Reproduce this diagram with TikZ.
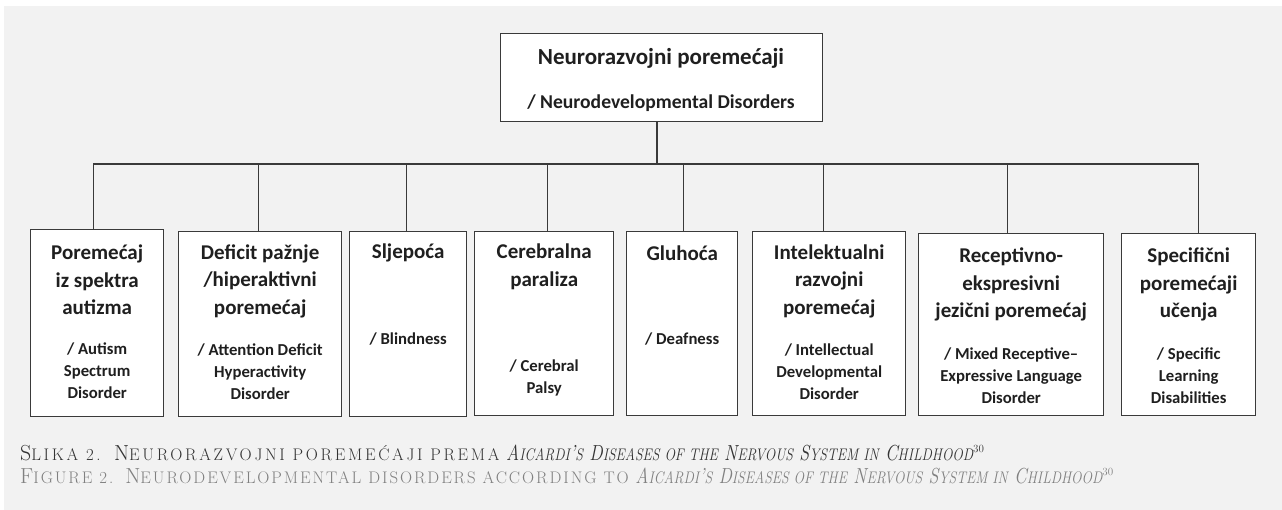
\documentclass[tikz,border=0pt]{standalone}
\usepackage{fontspec}
\usepackage{graphicx}
\newfontfamily\carl{Carlito}
\newfontfamily\capupA{Latin Modern Roman}[LetterSpace=16]
\newfontfamily\capupB{Latin Modern Roman}[LetterSpace=11.5]
\definecolor{bggray}{HTML}{F2F2F2}
\definecolor{linec}{HTML}{3A3A3A}
\definecolor{capA}{HTML}{333333}
\definecolor{capB}{HTML}{808080}
\newcommand\smc[1]{{\fontsize{16.8}{17}\selectfont #1}}
\newcommand\itpart{\scalebox{0.83}[1]{\itshape A\smc{ICARDI}’\smc{S} D\smc{ISEASES OF THE} N\smc{ERVOUS} S\smc{YSTEM IN} C\smc{HILDHOOD}}\textsuperscript{\fontsize{11}{11}\selectfont 30}}
\tikzset{
  box/.style={draw=linec, line width=1.4pt, fill=white, inner sep=0pt, anchor=north west},
  conn/.style={draw=linec, line width=1.2pt},
  hd/.style={font=\carl\bfseries\fontsize{21}{27.5}\selectfont, text=black!88, align=center, inner sep=0pt},
  en/.style={font=\carl\bfseries\fontsize{16.7}{22}\selectfont, text=black!88, align=center, inner sep=0pt},
  captxt/.style={anchor=base west, inner sep=0pt, font=\fontsize{21.8}{24}\selectfont}
}
\begin{document}
\begin{tikzpicture}[x=1pt,y=-1pt]
\useasboundingbox (0,0) rectangle (1282,510);
\fill[white] (0,0) rectangle (1282,510);
\fill[bggray] (4,6) rectangle (1282,510);
% top box
\node[box, minimum width=322pt, minimum height=88pt] (top) at (500,33) {};
\node[hd, font=\carl\bfseries\fontsize{23}{27}\selectfont] (topa) at (661,58) {Neurorazvojni poremećaji};
\node[en, font=\carl\bfseries\fontsize{19.6}{22}\selectfont] (topb) at (661,103) {/ Neurodevelopmental Disorders};
% children
\node[box, minimum width=133pt, minimum height=187pt] (c1) at (30,229) {};
\node[box, minimum width=163pt, minimum height=185pt] (c2) at (178,231) {};
\node[box, minimum width=117pt, minimum height=185pt] (c3) at (349,231) {};
\node[box, minimum width=139pt, minimum height=184pt] (c4) at (474,231) {};
\node[box, minimum width=111pt, minimum height=184pt] (c5) at (626,231) {};
\node[box, minimum width=153pt, minimum height=184pt] (c6) at (752,231) {};
\node[box, minimum width=185pt, minimum height=182pt] (c7) at (918,233) {};
\node[box, minimum width=134pt, minimum height=182pt] (c8) at (1121,233) {};
% connectors
\coordinate (bus) at (657,164);
\draw[conn] (top.south -| bus) -- (bus);
\draw[conn] (bus) -| ([xshift=-3.5pt]c1.north);
\draw[conn] (bus) -| ([xshift=-1.5pt]c2.north);
\draw[conn] (bus) -| ([xshift=-1.5pt]c3.north);
\draw[conn] (bus) -| ([xshift=3.5pt]c4.north);
\draw[conn] (bus) -| ([xshift=1.5pt]c5.north);
\draw[conn] (bus) -| ([xshift=-5.5pt]c6.north);
\draw[conn] (bus) -| ([xshift=-3.5pt]c7.north);
\draw[conn] (bus) -| ([xshift=10pt]c8.north);
% texts
\node[hd] (h1) at (c1.north |- 0,280) {Poremećaj\\iz spektra\\autizma};
\node[en] (e1) at (c1.north |- 0,370.5) {/ Autism\\Spectrum\\Disorder};
\node[hd] (h2) at (c2.north |- 0,281) {Deficit pažnje\\/hiperaktivni\\poremećaj};
\node[en] (e2) at (c2.north |- 0,372) {/ Attention Deficit\\Hyperactivity\\Disorder};
\node[hd] (h3) at (c3.north |- 0,253) {Sljepoća};
\node[en] (e3) at (c3.north |- 0,339) {/ Blindness};
\node[hd] (h4) at (c4.north |- 0,267) {Cerebralna\\paraliza};
\node[en] (e4) at (c4.north |- 0,377.5) {/ Cerebral\\Palsy};
\node[hd] (h5) at (c5.north |- 0,253) {Gluhoća};
\node[en] (e5) at (c5.north |- 0,339) {/ Deafness};
\node[hd] (h6) at (c6.north |- 0,281) {Intelektualni\\razvojni\\poremećaj};
\node[en] (e6) at (c6.north |- 0,371.5) {/ Intellectual\\Developmental\\Disorder};
\node[hd] (h7) at (c7.north |- 0,284.5) {Receptivno-\\ekspresivni\\jezični poremećaj};
\node[en] (e7) at (c7.north |- 0,376) {/ Mixed Receptive–\\Expressive Language\\Disorder};
\node[hd] (h8) at (c8.north |- 0,284.5) {Specifični\\poremećaji\\učenja};
\node[en] (e8) at (c8.north |- 0,376) {/ Specific\\Learning\\Disabilities};
% caption
\node[captxt, text=capA] (capa) at (20,460) {{\capupA S\smc{LIKA 2.} N\smc{EURORAZVOJNI POREMEĆAJI PREMA}} \itpart};
\node[captxt, text=capB] (capb) at (20,483) {{\capupB F\smc{IGURE 2.} N\smc{EURODEVELOPMENTAL DISORDERS ACCORDING TO}} \itpart};
\end{tikzpicture}
\end{document}
